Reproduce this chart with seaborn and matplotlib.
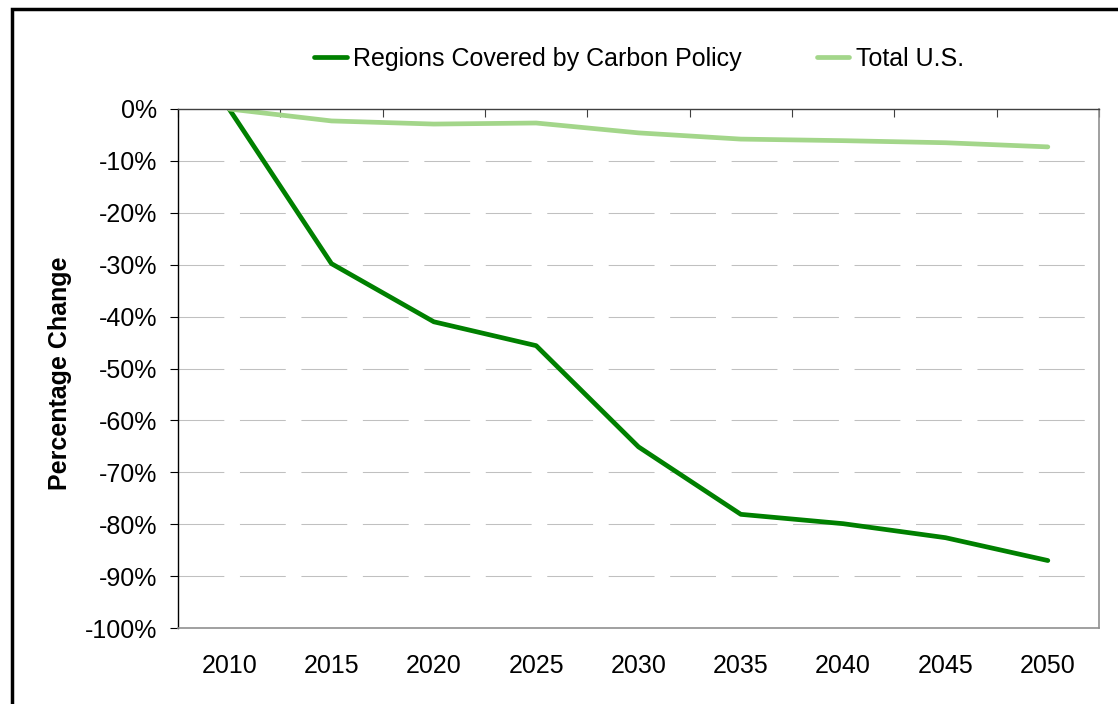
import pandas as pd
import seaborn as sns
import matplotlib.pyplot as plt
from matplotlib.patches import Rectangle
from matplotlib.ticker import FixedLocator


years = ['2010', '2015', '2020', '2025', '2030', '2035', '2040', '2045', '2050']
regions_covered = [0.0, -29.8, -41.0, -45.6, -65.1, -78.1, -79.9, -82.6, -87.0]
total_us = [0.0, -2.3, -2.9, -2.7, -4.6, -5.8, -6.1, -6.5, -7.3]
series_names = ['Regions Covered by Carbon Policy', 'Total U.S.']
y_ticks = list(range(0, -101, -10))

colors = {'Regions Covered by Carbon Policy': '#008000', 'Total U.S.': '#a3d68a'}

df = pd.DataFrame({
    'Year': years * 2,
    'Change': regions_covered + total_us,
    'Series': [series_names[0]] * len(years) + [series_names[1]] * len(years),
})
df['pos'] = list(range(len(years))) * 2

sns.set_style('white')
plt.rcParams['font.family'] = ['Liberation Sans', 'DejaVu Sans']
plt.rcParams['text.color'] = 'black'
plt.rcParams['xtick.color'] = 'black'
plt.rcParams['ytick.color'] = 'black'

fs = 18

fig = plt.figure(figsize=(11.18, 7.04), dpi=100)
ax = fig.add_axes([178 / 1118, 1 - 628 / 704, (1099 - 178) / 1118, (628 - 109) / 704])

sns.lineplot(data=df, x='pos', y='Change', hue='Series', palette=colors,
             linewidth=3.4, ax=ax, legend=False, sort=False,
             solid_capstyle='round', solid_joinstyle='round')

ax.set_xlim(-0.5, len(years) - 0.5)
ax.set_ylim(-100, 0)

# gridlines
for v in y_ticks[1:-1]:
    ax.axhline(v, color='#c0c0c0', linewidth=0.75, linestyle=(0, (44, 15)), zorder=0)

ax.set_yticks(y_ticks)
ax.set_yticklabels([f'{v}%' for v in y_ticks])
ax.tick_params(axis='y', direction='out', length=6, width=0.8, color='black',
               labelsize=fs, pad=9, left=True)

ax.set_xticks(range(len(years)))
ax.set_xticklabels(years)
ax.tick_params(axis='x', which='major', length=0, labelsize=fs, pad=19)
ax.xaxis.set_minor_locator(FixedLocator([i + 0.5 for i in range(-1, len(years))]))
ax.tick_params(axis='x', which='minor', top=True, bottom=False, direction='in',
               length=6, width=0.8, color='#404040')

for side in ['top', 'right', 'bottom', 'left']:
    ax.spines[side].set_visible(True)
ax.spines['left'].set_color('black')
ax.spines['left'].set_linewidth(1.0)
ax.spines['top'].set_color('#404040')
ax.spines['top'].set_linewidth(1.0)
ax.spines['right'].set_color('#909090')
ax.spines['bottom'].set_color('#909090')
ax.spines['right'].set_linewidth(1.2)
ax.spines['bottom'].set_linewidth(1.2)

ax.set_xlabel('')
ax.set_ylabel('')
fig.text(60 / 1118, 1 - 373 / 704, 'Percentage Change', rotation=90, ha='center', va='center',
         fontsize=fs, fontweight='bold')

handles = [plt.Line2D([], [], color=colors[s], linewidth=3.4, solid_capstyle='round') for s in series_names]
fig.legend(handles, series_names, loc='center', bbox_to_anchor=(639 / 1118, 1 - 59 / 704),
           ncol=2, frameon=False, fontsize=fs, handlelength=1.3, handletextpad=0.25,
           columnspacing=3.0)

fig.add_artist(Rectangle((12 / 1118, -0.05), 1.2, 1 - 9 / 704 + 0.05, transform=fig.transFigure,
                         fill=False, edgecolor='black', linewidth=2.5))

plt.savefig('out.png', dpi=100)
